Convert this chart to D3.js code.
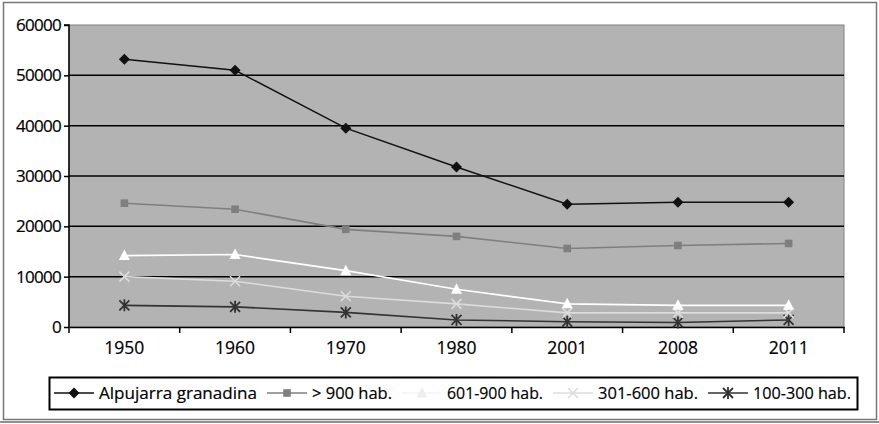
<!DOCTYPE html>
<html><head><meta charset="utf-8">
<script src="https://cdn.jsdelivr.net/npm/d3@7"></script>
<style>
html,body{margin:0;padding:0;background:#fff;}
text{font-family:"Open Sans","Noto Sans",sans-serif;}
</style></head>
<body><svg id="c" width="879" height="424"></svg>
<script>
const years = ["1950","1960","1970","1980","2001","2008","2011"];
const alpujarra = [53200, 51000, 39500, 31800, 24400, 24800, 24800];
const mas900 = [24600, 23400, 19400, 18000, 15600, 16200, 16600];
const h601_900 = [14200, 14400, 11200, 7500, 4600, 4300, 4300];
const h301_600 = [10000, 9100, 6100, 4600, 2800, 2800, 2800];
const h100_300 = [4300, 4000, 2900, 1400, 1050, 900, 1400];
const yTicks = [0, 10000, 20000, 30000, 40000, 50000, 60000];
const seriesNames = ["Alpujarra granadina", "> 900 hab.", "601-900 hab.", "301-600 hab.", "100-300 hab."];

const series = [
  {name: seriesNames[0], values: alpujarra, color: "#111", marker: "diamond", lw: 1.5},
  {name: seriesNames[1], values: mas900, color: "#7f7f7f", marker: "square", lw: 1.6},
  {name: seriesNames[2], values: h601_900, color: "#ffffff", marker: "triangle", lw: 1.7},
  {name: seriesNames[3], values: h301_600, color: "#dcdcdc", marker: "x", lw: 1.6},
  {name: seriesNames[4], values: h100_300, color: "#333", marker: "star", lw: 1.6}
];

const svg = d3.select("#c");
svg.append("rect").attr("x",3.5).attr("y",2.5).attr("width",873).attr("height",417)
  .attr("fill","#fff").attr("stroke","#777").attr("stroke-width",1.5);
svg.append("line").attr("x1",0).attr("x2",879).attr("y1",422).attr("y2",422).attr("stroke","#222").attr("stroke-width",1.2);

const L = 69, R = 844, T = 25, B = 327;
const x = d3.scaleBand().domain(years).range([L, R]);
const y = d3.scaleLinear().domain([0, 60000]).range([B, T]);

svg.append("rect").attr("x",L).attr("y",T).attr("width",R-L).attr("height",B-T)
  .attr("fill","#b3b3b3").attr("stroke","#808080").attr("stroke-width",1);

svg.append("g").selectAll("line").data(yTicks.filter(d=>d>0 && d<60000)).join("line")
  .attr("x1",L).attr("x2",R).attr("y1",d=>y(d)).attr("y2",d=>y(d))
  .attr("stroke","#000").attr("stroke-width",1.5);

const ya = svg.append("g").attr("transform",`translate(${L},0)`)
  .call(d3.axisLeft(y).tickValues(yTicks).tickSize(5).tickPadding(3).tickFormat(d3.format("d")));
ya.attr("font-size",null).attr("font-family",null);
ya.select(".domain").attr("stroke","#000").attr("stroke-width",1.5).attr("d",`M-5,${T}H0V${B}`);
ya.selectAll(".tick line").attr("stroke","#000").attr("stroke-width",1.5);
ya.selectAll("text").style("font-size","17px").attr("fill","#000").attr("letter-spacing",-0.7)
  .attr("stroke","#000").attr("stroke-width",0.2);

const xa = svg.append("g").attr("transform",`translate(0,${B})`)
  .call(d3.axisBottom(x).tickSize(0).tickPadding(15));
xa.attr("font-size",null).attr("font-family",null);
xa.select(".domain").attr("stroke","#000").attr("stroke-width",1.5);
xa.selectAll("text").style("font-size","17.5px").attr("fill","#000").attr("stroke","#000").attr("stroke-width",0.2);
svg.append("g").selectAll("line").data(years.concat(["end"])).join("line")
  .attr("x1",(d,i)=> i<years.length ? x(d) : R).attr("x2",(d,i)=> i<years.length ? x(d) : R)
  .attr("y1",B).attr("y2",B+6).attr("stroke","#000").attr("stroke-width",1.5);

const cx = d => x(d) + x.bandwidth()/2;

function drawMarker(g, type, color, px, py) {
  const tr = `translate(${px},${py})`;
  if (type === "diamond") {
    g.append("path").attr("d", "M0,-5.5L5.5,0L0,5.5L-5.5,0Z").attr("transform",tr).attr("fill",color);
  } else if (type === "square") {
    g.append("path").attr("d", "M-3.8,-3.8H3.8V3.8H-3.8Z").attr("transform",tr).attr("fill",color);
  } else if (type === "triangle") {
    g.append("path").attr("d", "M0,-6L5.5,4.5H-5.5Z").attr("transform",tr).attr("fill",color);
  } else if (type === "x") {
    g.append("path").attr("d", "M-5,-5L5,5M-5,5L5,-5").attr("transform",tr).attr("stroke",color).attr("stroke-width",1.6).attr("fill","none");
  } else if (type === "star") {
    g.append("path").attr("d", "M-5,-5L5,5M-5,5L5,-5M0,-6V6").attr("transform",tr).attr("stroke",color).attr("stroke-width",1.8).attr("fill","none");
  }
}

const line = d3.line().x((d,i)=>cx(years[i])).y(d=>y(d));
[...series].reverse().forEach(s => {
  const g = svg.append("g");
  g.append("path").datum(s.values).attr("d", line).attr("fill","none").attr("stroke", s.color).attr("stroke-width", s.lw);
  s.values.forEach((v,i) => drawMarker(g, s.marker, s.color, cx(years[i]), y(v)));
});

// legend
const lg = svg.append("g");
lg.append("rect").attr("x",49.5).attr("y",377.5).attr("width",808).attr("height",32)
  .attr("fill","#fff").attr("stroke","#000").attr("stroke-width",2);
const legendY = 393;
const textW = [158, 80, 96, 100, 98];
let lx = 54;
const segW = 40;
series.forEach((s,i) => {
  lg.append("line").attr("x1",lx).attr("x2",lx+segW).attr("y1",legendY).attr("y2",legendY)
    .attr("stroke", s.color === "#ffffff" ? "#f4f4f4" : s.color).attr("stroke-width",1.6);
  drawMarker(lg, s.marker, s.color === "#ffffff" ? "#eeeeee" : s.color, lx+segW/2, legendY);
  lg.append("text").attr("x", lx+segW+5).attr("y", legendY+6).style("font-size","17px").attr("fill","#000")
    .attr("stroke","#000").attr("stroke-width",0.2)
    .attr("textLength", textW[i]).attr("lengthAdjust","spacingAndGlyphs").text(s.name);
  lx = lx + segW + 5 + textW[i] + 10;
});
</script></body></html>
